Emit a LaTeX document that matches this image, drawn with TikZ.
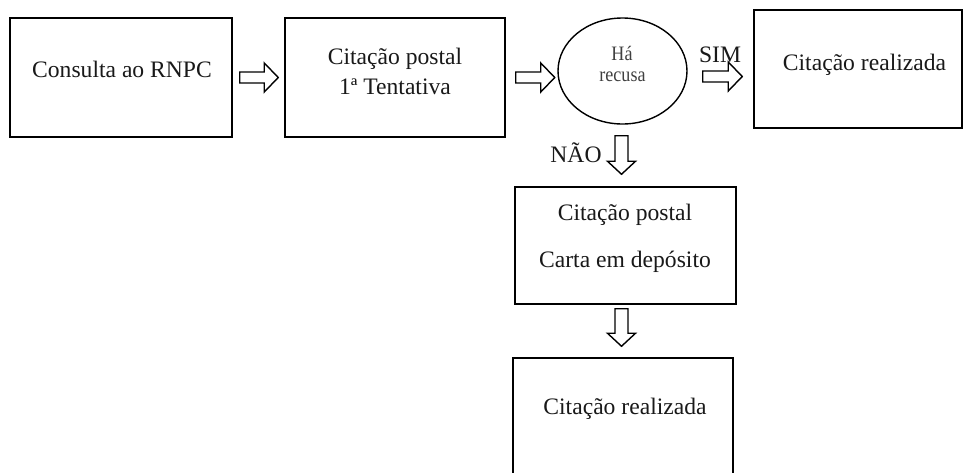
\documentclass[tikz,border=0pt]{standalone}
\usepackage{fontspec}
\setmainfont{Liberation Serif}
\usetikzlibrary{calc,shapes.geometric}
\tikzset{
  box/.style={draw=black, line width=1.5pt, rectangle, inner sep=0pt},
  txt/.style={inner sep=0pt, anchor=base, font=\fontsize{23.6}{28}\selectfont, text=black!90},
  smalltxt/.style={inner sep=0pt, anchor=base, font=\fontsize{20.5}{21}\selectfont, text=black!75, xscale=0.88},
  barrow/.style={draw=black, line width=1.4pt, fill=white, line join=miter},
}
\newcommand{\harrowdraw}[2]{%
  \draw[barrow] let \p1=(#1), \p2=(#2) in
    (\x1,\y1+5.5pt) -- (\x2-14pt,\y1+5.5pt) -- (\x2-14pt,\y1+14.5pt) -- (\x2,\y1)
    -- (\x2-14pt,\y1-14.5pt) -- (\x2-14pt,\y1-5.5pt) -- (\x1,\y1-5.5pt) -- cycle;}
\newcommand{\varrowdraw}[2]{%
  \draw[barrow] let \p1=(#1), \p2=(#2) in
    (\x1-6.5pt,\y1) -- (\x1-6.5pt,\y2+13pt) -- (\x1-14pt,\y2+13pt) -- (\x1,\y2)
    -- (\x1+14pt,\y2+13pt) -- (\x1+6.5pt,\y2+13pt) -- (\x1+6.5pt,\y1) -- cycle;}
\begin{document}
\begin{tikzpicture}[x=1pt,y=-1pt]
\useasboundingbox[fill=white] (0,0) rectangle (964,472);
\begin{scope}
\clip (0,0) rectangle (964,472);
% boxes
\node[box, minimum width=222, minimum height=119] (b1) at (121,77.5) {};
\node[box, minimum width=220, minimum height=119] (b2) at (395,77.5) {};
\node[draw=black, line width=1.4pt, ellipse, minimum width=129, minimum height=106, inner sep=0pt] (e) at (622.5,71) {};
\node[box, minimum width=208, minimum height=118] (b4) at (858,69) {};
\node[box, minimum width=221, minimum height=117] (b5) at (625.5,245.5) {};
\node[box, minimum width=220, minimum height=122] (b6) at (623,419) {};
% texts
\node[txt] (t1) at (122,77.3) {Consulta ao RNPC};
\node[txt] (t2a) at (395,64) {Citação postal};
\node[txt] (t2b) at (395,94) {1ª Tentativa};
\node[smalltxt] (te1) at (622,60.7) {Há};
\node[smalltxt] (te2) at (622.5,81.7) {recusa};
\node[txt] (t4) at (864.5,70.7) {Citação realizada};
\node[txt] (tsim) at (720,62.7) {SIM};
\node[txt] (tnao) at (576,162) {NÃO};
\node[txt] (t5a) at (625,220.7) {Citação postal};
\node[txt] (t5b) at (625,267.3) {Carta em depósito};
\node[txt] (t6) at (625,414.3) {Citação realizada};
% arrow endpoints
\coordinate (a1s) at ($(b1.east)+(7,0)$);
\coordinate (a1e) at ($(b2.west)+(-6,0)$);
\coordinate (a2s) at ($(b2.east)+(10,0)$);
\coordinate (a2e) at ($(b2.east)+(49,0)$);
\coordinate (a3s) at ($(e.east)+(15,5.5)$);
\coordinate (a3e) at ($(b4.west)+(-11,7.5)$);
\coordinate (a4s) at ($(e.south)+(-1,11)$);
\coordinate (a4e) at ($(b5.north)+(-4,-12)$);
\coordinate (a5s) at ($(b5.south)+(-4,4)$);
\coordinate (a5e) at ($(b6.north)+(-1.5,-11)$);
\harrowdraw{a1s}{a1e}
\harrowdraw{a2s}{a2e}
\harrowdraw{a3s}{a3e}
\varrowdraw{a4s}{a4e}
\varrowdraw{a5s}{a5e}
\end{scope}
\end{tikzpicture}
\end{document}
